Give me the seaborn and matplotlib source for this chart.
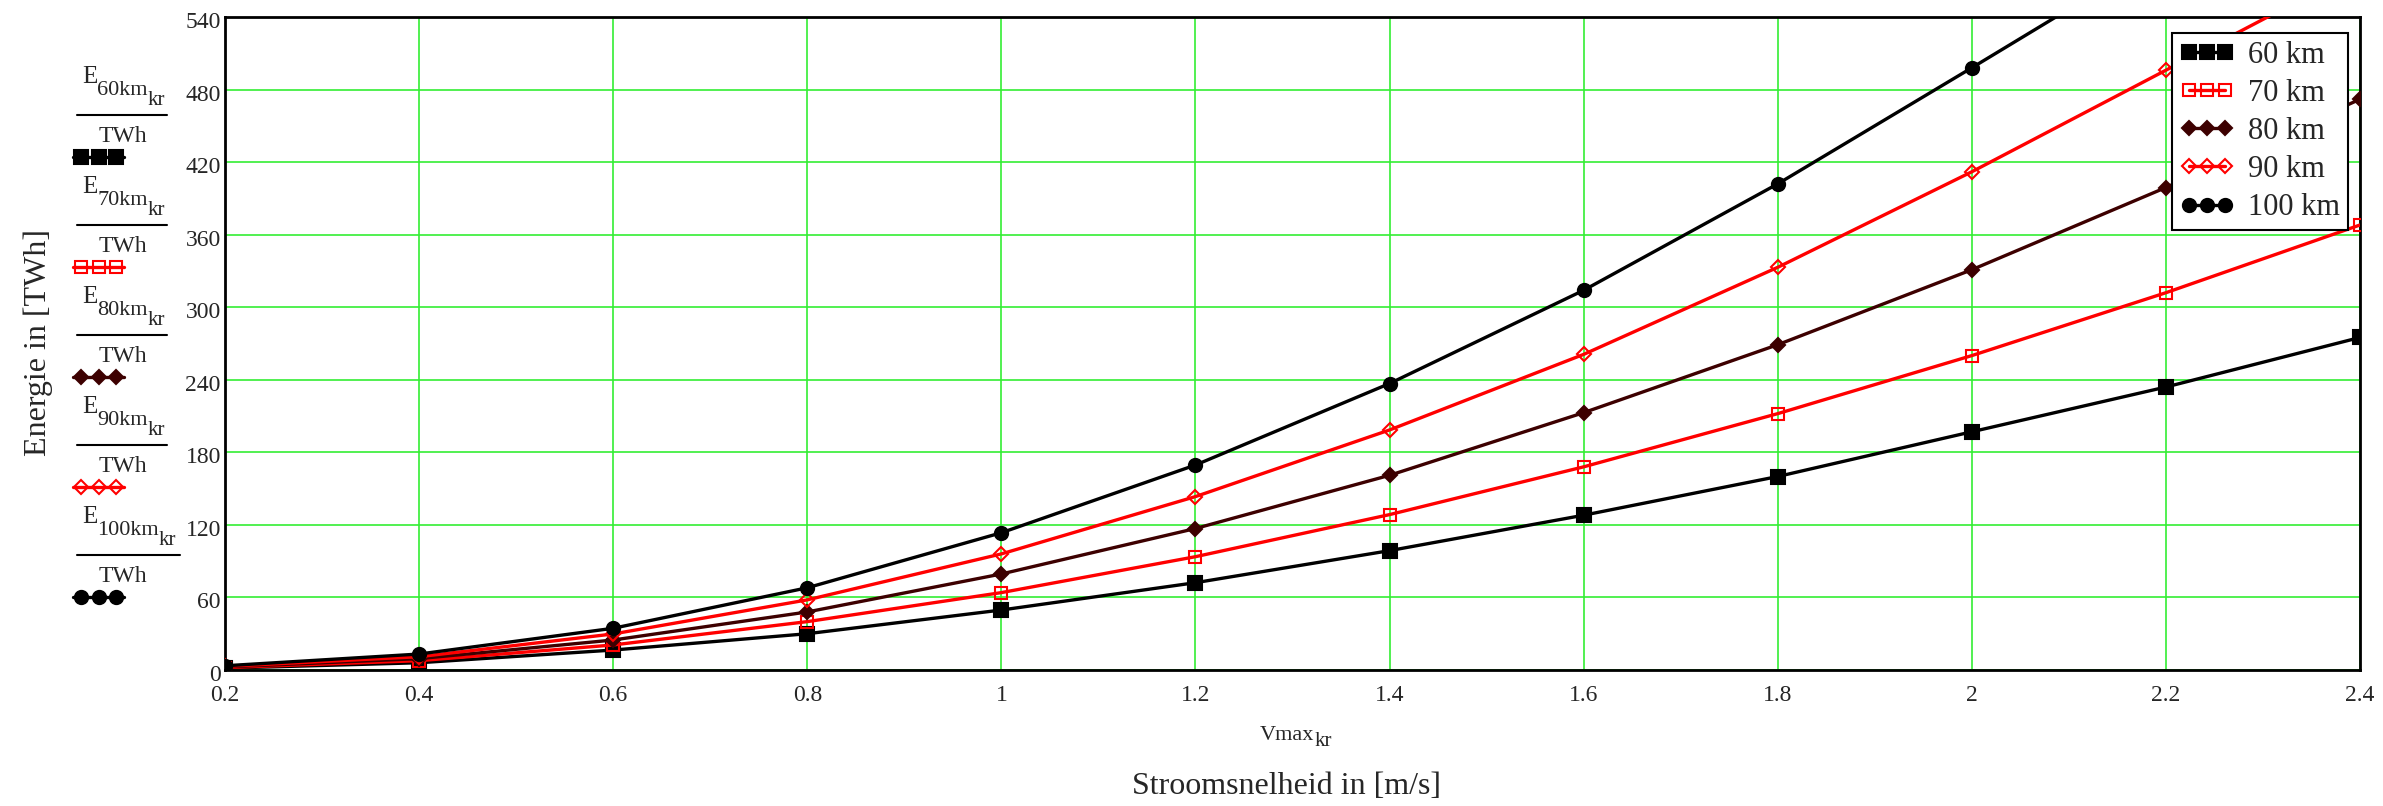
import pandas as pd
import seaborn as sns
import matplotlib.pyplot as plt
from matplotlib.lines import Line2D
from matplotlib.transforms import ScaledTranslation

# Stroomsnelheid (m/s) en energie (TWh) per afstand
v_max = [0.2, 0.4, 0.6, 0.8, 1.0, 1.2, 1.4, 1.6, 1.8, 2.0, 2.2, 2.4]
e_60km = [1.5, 6, 16.5, 30, 49.6, 72.2, 98.7, 128, 160, 197, 234, 275]
e_70km = [2, 7.7, 20.7, 40, 64, 93.7, 128.5, 168, 212, 260, 312, 368]
e_80km = [2.5, 9.4, 24.8, 48, 79.4, 117, 161, 212.8, 269, 331, 399, 472]
e_90km = [3, 11, 29.8, 58, 96, 143.4, 198.5, 261, 333, 412, 496, 580]
e_100km = [3.5, 13.2, 34.5, 68, 113.5, 169.5, 236.9, 314, 402, 498, 595, 700]

labels = ['60 km', '70 km', '80 km', '90 km', '100 km']
sub_names = ['60km', '70km', '80km', '90km', '100km']
x_ticks = [0.2, 0.4, 0.6, 0.8, 1.0, 1.2, 1.4, 1.6, 1.8, 2.0, 2.2, 2.4]
x_tick_labels = ['0.2', '0.4', '0.6', '0.8', '1', '1.2', '1.4', '1.6', '1.8', '2', '2.2', '2.4']
y_ticks = list(range(0, 541, 60))

df = pd.DataFrame({'v': v_max * 5,
                   'E': e_60km + e_70km + e_80km + e_90km + e_100km,
                   'serie': [l for l in labels for _ in v_max]})

# look per serie (Mathcad stijl)
styles = {
    '60 km': dict(color='black', marker='s', ms=9.5, mfc='black'),
    '70 km': dict(color='#ff0000', marker='s', ms=9, mfc='none'),
    '80 km': dict(color='#3d0000', marker='D', ms=7.5, mfc='#3d0000'),
    '90 km': dict(color='#ff0000', marker='D', ms=7.5, mfc='none'),
    '100 km': dict(color='black', marker='o', ms=9.5, mfc='black'),
}

sns.set_style('white')
plt.rcParams['font.family'] = ['Liberation Serif', 'DejaVu Serif']

W, H = 2383, 806
fig = plt.figure(figsize=(W / 100, H / 100), dpi=100)
ax = fig.add_axes([225 / W, 1 - 670 / H, 2135 / W, 653 / H])

for lab in labels:
    st = styles[lab]
    sns.lineplot(data=df[df['serie'] == lab], x='v', y='E', ax=ax, label=lab,
                 color=st['color'], marker=st['marker'], markersize=st['ms'],
                 markerfacecolor=st['mfc'], markeredgecolor=st['color'],
                 markeredgewidth=1.5, linewidth=2.4, zorder=3)

ax.set_xlim(0.2, 2.4)
ax.set_ylim(0, 540)
ax.set_xticks(x_ticks)
ax.set_xticklabels(x_tick_labels)
ax.set_yticks(y_ticks)
ax.tick_params(axis='both', length=0, labelsize=17)
ax.tick_params(axis='x', pad=11)
ax.tick_params(axis='y', pad=3)
# Mathcad zet de y-getallen iets onder de rasterlijn
for t in ax.get_yticklabels():
    t.set_transform(t.get_transform() + ScaledTranslation(0, -0.03, fig.dpi_scale_trans))
ax.grid(True, color='#33ee33', linewidth=1.2, zorder=0)
ax.set_axisbelow(True)
for sp in ax.spines.values():
    sp.set_color('black')
    sp.set_linewidth(2)
ax.set_xlabel('')
ax.set_ylabel('')

leg = ax.legend(loc='upper right', bbox_to_anchor=(0.9944, 0.9755), borderaxespad=0,
                numpoints=3, fontsize=22, fancybox=False, framealpha=1,
                edgecolor='black', handlelength=1.8, handletextpad=0.45,
                labelspacing=0.3, borderpad=0.25)
leg.get_frame().set_linewidth(1.5)

renderer = fig.canvas.get_renderer()


def sub_text(x, y_base, parts):
    # parts: (tekst, fontsize, baseline-verschuiving in px); achter elkaar gezet
    for txt, size, dy in parts:
        t = fig.text(x / W, 1 - (y_base + dy) / H, txt, ha='left', va='baseline', fontsize=size)
        bb = t.get_window_extent(renderer)
        x = bb.x1


# as-titels
fig.text(38 / W, 1 - 342 / H, 'Energie in [TWh]', rotation=90,
         ha='center', va='center', fontsize=23)
sub_text(1260, 740, [('Vmax', 16, 0), ('kr', 15, 6)])
fig.text(1287 / W, 1 - 787 / H, 'Stroomsnelheid in [m/s]',
         ha='center', va='center', fontsize=23)

# breuken links: E_xxkm_kr / TWh met lijnmonster
for i, (lab, sub) in enumerate(zip(labels, sub_names)):
    st = styles[lab]
    y_line = 115 + 110 * i
    x_end = 180 if sub == '100km' else 167
    sub_text(82, y_line - 32, [('E', 18, 0), (sub, 16, 12), ('kr', 15, 22)])
    fig.add_artist(Line2D([77 / W, x_end / W], [1 - y_line / H] * 2,
                          transform=fig.transFigure, color='black', linewidth=1.5))
    fig.text(123 / W, 1 - (y_line + 22) / H, 'TWh',
             ha='center', va='center', fontsize=17)
    ys = 1 - (y_line + 42) / H
    fig.add_artist(Line2D([73 / W, 81 / W, 98.5 / W, 116 / W, 124 / W],
                          [ys] * 5, transform=fig.transFigure, color=st['color'],
                          marker=st['marker'], markersize=st['ms'], markevery=[1, 2, 3],
                          markerfacecolor=st['mfc'], markeredgecolor=st['color'],
                          markeredgewidth=1.5, linewidth=2.4))

fig.savefig('out.png', dpi=100)
